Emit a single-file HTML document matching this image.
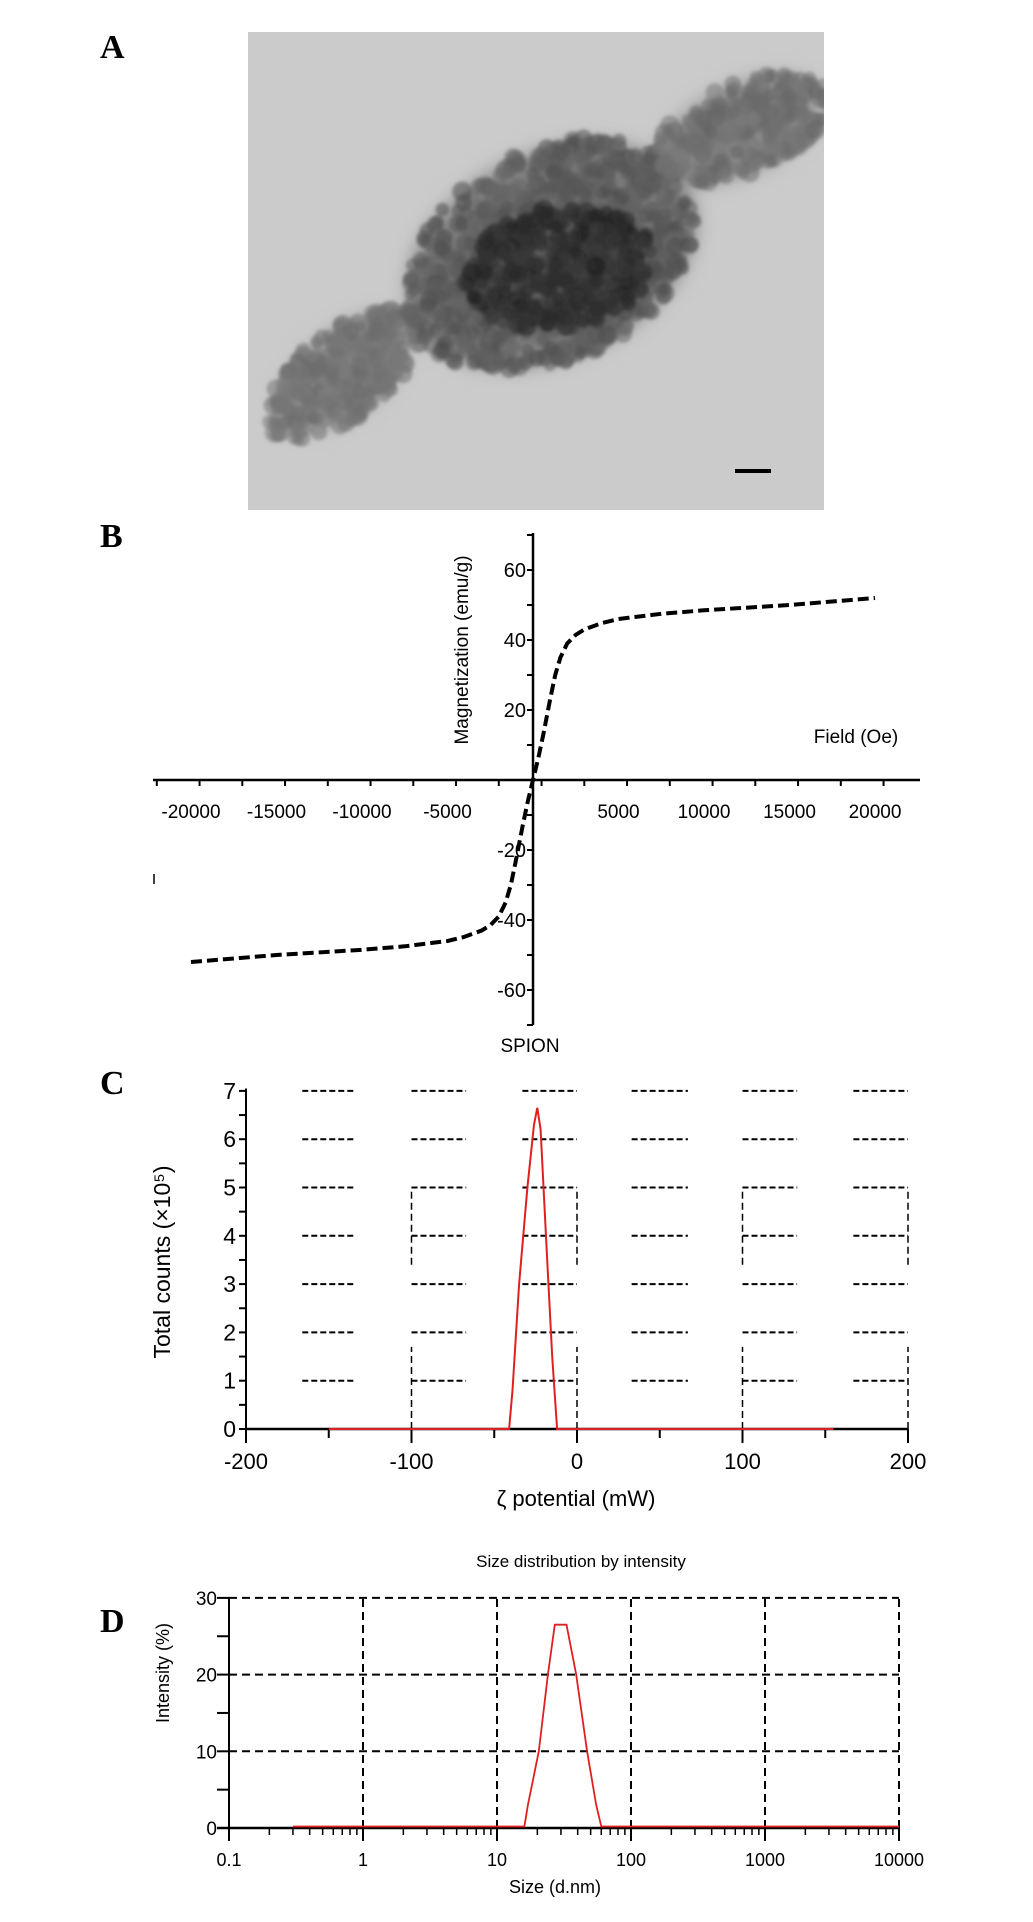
<!DOCTYPE html>
<html><head><meta charset="utf-8"><style>
html,body{margin:0;padding:0;background:#fff;}
svg{display:block;}
text{font-family:"Liberation Sans",sans-serif;}
.nar{font-family:"Liberation Sans Narrow","Liberation Sans",sans-serif;}
.lab{font-family:"Liberation Serif",serif;font-weight:bold;font-size:34px;}
</style></head><body>
<svg id="s" width="1033" height="1922" viewBox="0 0 1033 1922" xmlns="http://www.w3.org/2000/svg">
<defs>
<filter id="bl" x="-30%" y="-30%" width="160%" height="160%"><feGaussianBlur stdDeviation="10"/></filter>
<filter id="bl2"><feGaussianBlur stdDeviation="1.6"/></filter>
<clipPath id="imgclip"><rect x="248" y="32" width="576" height="478"/></clipPath>
</defs>
<text class="lab" x="100" y="58">A</text>
<text class="lab" x="100" y="547">B</text>
<text class="lab" x="100" y="1094">C</text>
<text class="lab" x="100" y="1632">D</text>

<g clip-path="url(#imgclip)">
<rect x="248" y="32" width="576" height="478" fill="#cbcbcb"/>
<g id="blob" filter="url(#bl)"></g>
<g id="dots" filter="url(#bl2)"></g>
</g>
<rect x="735" y="469" width="36" height="4" fill="#000"/>

<g id="gB"></g>
<g id="gC"></g>
<g id="gD"></g>
</svg>
<script>
// ---- Panel B data ----
const fieldVals = [-20000,-15000,-10000,-7500,-5000,-4000,-3000,-2500,-2000,-1600,-1300,-1000,-600,-300,0,300,600,1000,1300,1600,2000,2500,3000,4000,5000,7500,10000,15000,20000];
const magVals   = [-52,-50,-48.5,-47.5,-46,-44.8,-43,-41.5,-39,-35,-30,-23,-13,-6,0,6,13,23,30,35,39,41.5,43,44.8,46,47.5,48.5,50,52];
const bXTicks = [-20000,-15000,-10000,-5000,5000,10000,15000,20000];
const bYTicks = [60,40,20,-20,-40,-60];
// ---- Panel C data ----
const zetaX = [-150,-41,-39,-35,-30,-26,-24,-22,-18,-15,-12,155];
const zetaY = [0,0,0.8,3,5,6.3,6.65,6.2,3.5,1.5,0,0];
const cXTicks = [-200,-100,0,100,200];
const cYTicks = [0,1,2,3,4,5,6,7];
// ---- Panel D data ----
const sizeX = [0.3,16,17,20.5,24,27,33,39,47,55,60,10000];
const intenY = [0.2,0.2,3,10,20,26.5,26.5,20,10,3,0.2,0.2];
const dXTicks = [0.1,1,10,100,1000,10000];
const dYTicks = [0,10,20,30];

const NS='http://www.w3.org/2000/svg';
function mk(parent,tag,attrs,txt){const e=document.createElementNS(NS,tag);for(const k in attrs)e.setAttribute(k,attrs[k]);if(txt!==undefined)e.textContent=txt;parent.appendChild(e);return e;}

// TEM blob (decorative texture)
(function(){
 const b=document.getElementById('blob');
 const ell=[[345,372,75,38,-40,'#8a8a8a'],[552,255,150,100,-25,'#7a7a7a'],[560,268,95,60,-10,'#3a3a3a'],[740,130,85,42,-25,'#8a8a8a']];
 ell.forEach(e=>{mk(b,'ellipse',{cx:e[0],cy:e[1],rx:e[2],ry:e[3],fill:e[5],transform:'rotate('+e[4]+' '+e[0]+' '+e[1]+')'});});
 const d=document.getElementById('dots');
 let seed=12345;const rnd=()=>{seed=(seed*1103515245+12345)%2147483648;return seed/2147483648;};
 const regions=[[346,372,95,45,-40,260,[105,125]],[552,255,155,105,-28,700,[75,105]],[560,268,95,62,-10,350,[35,60]],[742,128,92,45,-22,260,[100,125]]];
 regions.forEach(r=>{const a=r[4]*Math.PI/180;for(let i=0;i<r[5];i++){const t=rnd()*2*Math.PI,q=Math.sqrt(rnd());
  const u=Math.cos(t)*q*r[2],v=Math.sin(t)*q*r[3];
  const cx=r[0]+u*Math.cos(a)-v*Math.sin(a),cy=r[1]+u*Math.sin(a)+v*Math.cos(a);
  const g=Math.round(r[6][0]+rnd()*(r[6][1]-r[6][0]));
  mk(d,'circle',{cx:cx.toFixed(1),cy:cy.toFixed(1),r:(6+rnd()*4).toFixed(1),fill:'rgb('+g+','+g+','+g+')','fill-opacity':0.55});}});
})();

// ---- Panel B ----
(function(){
 const g=document.getElementById('gB');
 const x=v=>533+v*(342/20000), y=v=>780-v*3.5;
 mk(g,'line',{x1:153,y1:780,x2:920,y2:780,stroke:'#000','stroke-width':2.5});
 mk(g,'line',{x1:533,y1:533,x2:533,y2:1025,stroke:'#000','stroke-width':2.5});
 for(let v=-22000;v<=22500;v+=2500){mk(g,'line',{x1:x(v),y1:780,x2:x(v),y2:v%5000===0?790:786,stroke:'#000','stroke-width':2});}
 for(let v=-70;v<=70;v+=10){mk(g,'line',{x1:527,y1:y(v),x2:533,y2:y(v),stroke:'#000','stroke-width':2});}
 bXTicks.forEach(v=>{const t=mk(g,'text',{x:x(v),y:818,'text-anchor':'middle','font-size':19,class:'nar'},String(v));
  
  });
 bYTicks.forEach(v=>{const t=mk(g,'text',{x:526,y:y(v)+7,'text-anchor':'end','font-size':20,class:'nar'},String(v));
  
  });
 let d='';fieldVals.forEach((f,i)=>{d+=(i?'L':'M')+x(f).toFixed(1)+','+y(magVals[i]).toFixed(1);});
 const p=mk(g,'path',{d:d,fill:'none',stroke:'#000','stroke-width':4,'stroke-dasharray':'11,5','stroke-linejoin':'round'});
 
 
 const t1=mk(g,'text',{x:856,y:743,'text-anchor':'middle','font-size':19,class:'nar'},'Field (Oe)');
 
 
 const t2=mk(g,'text',{x:0,y:0,'text-anchor':'middle','font-size':19,transform:'translate(468,650) rotate(-90)'},'Magnetization (emu/g)');
 
 
 const t3=mk(g,'text',{x:530,y:1052,'text-anchor':'middle','font-size':19,class:'nar'},'SPION');
 
 
 mk(g,'line',{x1:154,y1:874,x2:154,y2:884,stroke:'#000','stroke-width':1.5});
})();

// ---- Panel C ----
(function(){
 const g=document.getElementById('gC');
 const x=v=>577+v*1.655, y=v=>1429-v*48.3;
 const cols=[[-166,-135],[-100,-67],[-33,0],[33,67],[100,133],[167,200]];
 for(let k=1;k<=7;k++)cols.forEach(c=>mk(g,'line',{x1:x(c[0]),y1:y(k),x2:x(c[1]),y2:y(k),stroke:'#000','stroke-width':2,'stroke-dasharray':'6,3'}));
 [-100,0,100,200].forEach(v=>{mk(g,'line',{x1:x(v),y1:y(0),x2:x(v),y2:y(1.7),stroke:'#000','stroke-width':1.5,'stroke-dasharray':'7,4'});
  mk(g,'line',{x1:x(v),y1:y(3.4),x2:x(v),y2:y(5),stroke:'#000','stroke-width':1.5,'stroke-dasharray':'7,4'});});
 [-100,100].forEach(v=>mk(g,'line',{x1:x(v),y1:y(5),x2:x(v+33),y2:y(5),stroke:'#000','stroke-width':2,'stroke-dasharray':'6,3'}));
 mk(g,'line',{x1:x(-200),y1:y(0),x2:x(200),y2:y(0),stroke:'#000','stroke-width':2.5});
 mk(g,'line',{x1:x(-200),y1:y(0),x2:x(-200),y2:y(7.05),stroke:'#000','stroke-width':2});
 for(let v=0;v<=7;v+=0.5)mk(g,'line',{x1:x(-200)-7,y1:y(v),x2:x(-200),y2:y(v),stroke:'#000','stroke-width':2});
 for(let v=-200;v<=200;v+=50)mk(g,'line',{x1:x(v),y1:y(0),x2:x(v),y2:y(0)+(v%100===0?14:9),stroke:'#000','stroke-width':2});
 cXTicks.forEach(v=>{const t=mk(g,'text',{x:x(v),y:1469,'text-anchor':'middle','font-size':22,class:'nar'},String(v));
  
  });
 cYTicks.forEach(v=>{const t=mk(g,'text',{x:x(-200)-10,y:y(v)+8,'text-anchor':'end','font-size':23,class:'nar'},String(v));
  
  });
 let d='';zetaX.forEach((v,i)=>{d+=(i?'L':'M')+x(v).toFixed(1)+','+y(zetaY[i]).toFixed(1);});
 const p=mk(g,'path',{d:d,fill:'none',stroke:'#e02020','stroke-width':2});
 
 
 const t1=mk(g,'text',{x:576,y:1506,'text-anchor':'middle','font-size':22,class:'nar'},'ζ potential (mW)');
 
 
 const t2=mk(g,'text',{x:0,y:0,'text-anchor':'middle','font-size':23,transform:'translate(170,1262) rotate(-90)'},'Total counts (×10⁵)');
 
 
})();

// ---- Panel D ----
(function(){
 const g=document.getElementById('gD');
 const x=v=>229+(Math.log10(v)+1)*134, y=v=>1828-v*7.67;
 [1,10,100,1000,10000].forEach(v=>mk(g,'line',{x1:x(v),y1:y(0),x2:x(v),y2:y(30),stroke:'#000','stroke-width':2,'stroke-dasharray':'8,5'}));
 [10,20,30].forEach(v=>mk(g,'line',{x1:x(0.1),y1:y(v),x2:x(10000),y2:y(v),stroke:'#000','stroke-width':2,'stroke-dasharray':'8,5'}));
 mk(g,'line',{x1:x(0.1)-12,y1:y(0),x2:x(10000),y2:y(0),stroke:'#000','stroke-width':2.5});
 mk(g,'line',{x1:x(0.1),y1:y(0)+12,x2:x(0.1),y2:y(30),stroke:'#000','stroke-width':2});
 for(let v=0;v<=30;v+=5)mk(g,'line',{x1:x(0.1)-12,y1:y(v),x2:x(0.1),y2:y(v),stroke:'#000','stroke-width':2});
 for(let e=-1;e<4;e++)for(let m=2;m<10;m++)mk(g,'line',{x1:x(m*Math.pow(10,e)),y1:y(0),x2:x(m*Math.pow(10,e)),y2:y(0)+7,stroke:'#000','stroke-width':1.5});
 dXTicks.forEach(v=>{mk(g,'line',{x1:x(v),y1:y(0),x2:x(v),y2:y(0)+13,stroke:'#000','stroke-width':2});
  const t=mk(g,'text',{x:x(v),y:1866,'text-anchor':'middle','font-size':18,class:'nar'},String(v));
  
  });
 dYTicks.forEach(v=>{const t=mk(g,'text',{x:x(0.1)-12,y:y(v)+7,'text-anchor':'end','font-size':19,class:'nar'},String(v));
  
  });
 let d='';sizeX.forEach((v,i)=>{d+=(i?'L':'M')+x(v).toFixed(1)+','+y(intenY[i]).toFixed(1);});
 const p=mk(g,'path',{d:d,fill:'none',stroke:'#e02020','stroke-width':1.8});
 
 
 const t0=mk(g,'text',{x:581,y:1567,'text-anchor':'middle','font-size':17,class:'nar'},'Size distribution by intensity');
 
 
 const t1=mk(g,'text',{x:555,y:1893,'text-anchor':'middle','font-size':18,class:'nar'},'Size (d.nm)');
 
 
 const t2=mk(g,'text',{x:0,y:0,'text-anchor':'middle','font-size':18,transform:'translate(169,1673) rotate(-90)'},'Intensity (%)');
 
 
})();
</script>
</body></html>
